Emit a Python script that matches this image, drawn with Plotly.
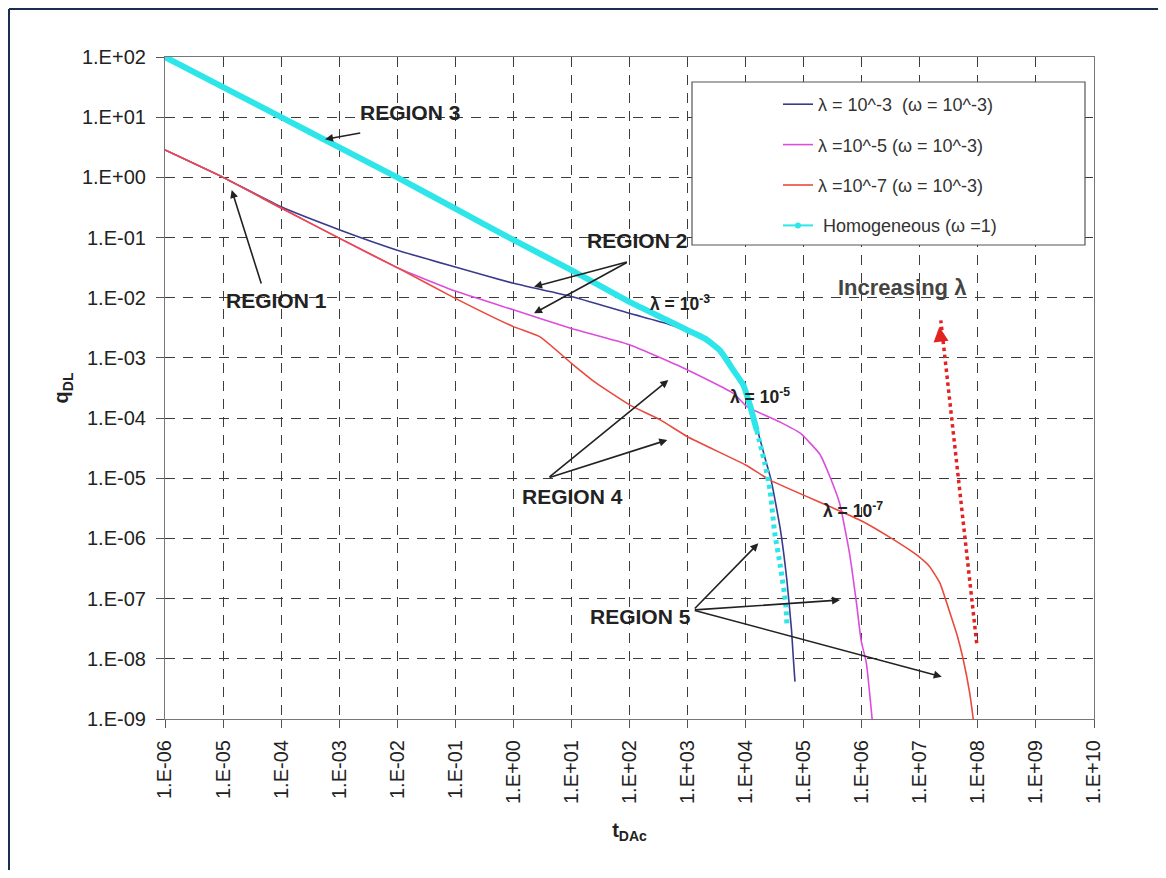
import plotly.graph_objects as go

# ---------------- data ----------------
t_lam3 = [1e-6, 1e-5, 1e-4, 1e-3, 1e-2, 1e-1, 1, 10, 100, 437, 1000, 2000, 3630, 6310, 9120,
          12000, 15500, 21400, 27500, 39800, 51300, 61700, 66100, 70800]
q_lam3 = [2.85, 1.0, 0.324, 0.135, 0.0617, 0.0324, 0.0174, 0.0105, 0.0055, 0.00372, 0.00275,
          0.00209, 1.32e-3, 6.03e-4, 3.55e-4, 1.58e-4, 7.08e-5, 2.24e-5, 9.33e-6, 1.38e-6,
          2.04e-7, 3.02e-8, 1.07e-8, 4.17e-9]

t_lam5 = [1e-6, 1e-5, 1e-4, 1e-3, 1e-2, 1e-1, 1, 10, 100, 1000, 6170, 10500, 40000, 87100,
          190000, 282000, 417000, 617000, 813000, 977000, 1.2e6, 1.51e6]
q_lam5 = [2.85, 1.0, 0.309, 0.0977, 0.0316, 0.0129, 0.00631, 0.00309, 0.00166, 6.31e-4,
          2.57e-4, 1.55e-4, 8.5e-5, 5.62e-5, 2.51e-5, 1.07e-5, 3.8e-6, 5.62e-7, 8.32e-8, 2.0e-8,
          8.51e-9, 1.0e-9]

t_lam7 = [1e-6, 1e-5, 1e-4, 1e-3, 1e-2, 1e-1, 1, 2.88, 10, 26.9, 100, 339, 1000, 10000, 26300,
          282000, 1.0e6, 3.16e6, 8.71e6, 1.48e7, 2.24e7, 3.09e7, 4.37e7, 5.62e7, 7.24e7, 8.32e7]
q_lam7 = [2.85, 1.0, 0.309, 0.0977, 0.0316, 0.00977, 0.00331, 0.00224, 8.13e-4, 3.8e-4,
          1.66e-4, 9.33e-5, 4.9e-5, 1.66e-5, 9.33e-6, 3.39e-6, 1.95e-6, 1.02e-6, 5.37e-7,
          3.39e-7, 1.78e-7, 7.08e-8, 2.51e-8, 9.55e-9, 2.69e-9, 1.0e-9]

# homogeneous: solid part then dotted tail (shares the joint point)
t_hom = [1e-6, 1e-5, 1e-4, 1e-3, 1e-2, 1e-1, 1, 10, 100, 437, 1000, 2000, 3630, 6310, 9120,
         12000, 15500]
q_hom = [100, 31.6, 10, 3.16, 1.0, 0.302, 0.0912, 0.0288, 0.00851, 0.00427, 0.00288, 0.00209,
         1.32e-3, 6.03e-4, 3.55e-4, 1.58e-4, 6.31e-5]
t_hom_tail = [15500, 21400, 26300, 31600, 39800, 49000, 51300]
q_hom_tail = [6.31e-5, 1.78e-5, 6.31e-6, 1.26e-6, 3.39e-7, 8.32e-8, 3.89e-8]

# red dotted "Increasing lambda" arrow (tail -> head)
arrow_t = [9.55e7, 2.3e7]
arrow_q = [1.81e-8, 4.2e-3]

tick_exp = list(range(-6, 11))
x_ticktext = ["1.E-06", "1.E-05", "1.E-04", "1.E-03", "1.E-02", "1.E-01", "1.E+00", "1.E+01",
              "1.E+02", "1.E+03", "1.E+04", "1.E+05", "1.E+06", "1.E+07", "1.E+08", "1.E+09",
              "1.E+10"]
y_exp = list(range(-9, 3))
y_ticktext = ["1.E-09", "1.E-08", "1.E-07", "1.E-06", "1.E-05", "1.E-04", "1.E-03", "1.E-02",
              "1.E-01", "1.E+00", "1.E+01", "1.E+02"]

legend_names = ["λ = 10^-3 \u00a0(ω = 10^-3)", "λ =10^-5 (ω = 10^-3)", "λ =10^-7 (ω = 10^-3)",
                "\u00a0Homogeneous (ω =1)"]

# ---------------- styles ----------------
C_BLUE = "#3a3a8c"
C_MAG = "#dc4ddc"
C_RED = "#ea4a3e"
C_CYAN = "#2ee6ea"
FONT = "Arial, Liberation Sans, sans-serif"
SMOOTH = dict(shape="spline", smoothing=0.45)

fig = go.Figure()
fig.add_trace(go.Scatter(x=t_lam3, y=q_lam3, mode="lines", name=legend_names[0],
                         line=dict(color=C_BLUE, width=1.6, **SMOOTH), legendgroup="a"))
fig.add_trace(go.Scatter(x=t_lam5, y=q_lam5, mode="lines", name=legend_names[1],
                         line=dict(color=C_MAG, width=1.6, **SMOOTH), legendgroup="b"))
fig.add_trace(go.Scatter(x=t_lam7, y=q_lam7, mode="lines", name=legend_names[2],
                         line=dict(color=C_RED, width=1.6, **SMOOTH), legendgroup="c"))
fig.add_trace(go.Scatter(x=t_hom, y=q_hom, mode="lines", showlegend=False,
                         line=dict(color=C_CYAN, width=6, **SMOOTH), legendgroup="d"))
fig.add_trace(go.Scatter(x=t_hom_tail, y=q_hom_tail, mode="lines", showlegend=False,
                         line=dict(color=C_CYAN, width=5, dash="4px,4px", **SMOOTH),
                         legendgroup="d"))
# legend entry for homogeneous (thin line + dot as in the reference legend)
fig.add_trace(go.Scatter(x=[None], y=[None], mode="lines+markers", name=legend_names[3],
                         line=dict(color=C_CYAN, width=2), marker=dict(size=6, color=C_CYAN),
                         legendgroup="d"))
fig.add_trace(go.Scatter(x=arrow_t, y=arrow_q, mode="lines", showlegend=False,
                         line=dict(color="#e32222", width=3.5, dash="dot"), hoverinfo="skip"))

# ---------------- annotations ----------------
ann = []
def text(x, y, s, size=21, bold=True, color="#222"):
    ann.append(dict(x=x, y=y, xref="x", yref="y", text=s, showarrow=False,
                    font=dict(family=FONT, size=size, color=color,
                              weight="bold" if bold else "normal")))

def arrow(x0, y0, x1, y1, color="#222", width=1.6, size=1.0):
    ann.append(dict(x=x1, y=y1, ax=x0, ay=y0, xref="x", yref="y", axref="x", ayref="y",
                    text="", showarrow=True, arrowhead=2, arrowsize=size, arrowwidth=width,
                    arrowcolor=color))

text(-1.78, 1.086, "REGION 3")
arrow(-2.612, 0.742, -3.244, 0.632)
text(-4.088, -2.054, "REGION 1")
arrow(-4.334, -1.789, -4.851, -0.210)
text(2.13, -1.057, "REGION 2")
arrow(1.98, -1.401, 0.356, -1.817)
arrow(1.98, -1.401, 0.356, -2.259)
text(1.01, -5.295, "REGION 4")
arrow(0.597, -4.996, 2.669, -3.367)
arrow(0.597, -4.996, 2.651, -4.364)
text(2.181, -7.289, "REGION 5")
arrow(3.099, -7.189, 4.219, -6.081)
arrow(3.099, -7.189, 5.626, -7.023)
arrow(3.099, -7.189, 7.378, -8.298)
text(2.87, -2.088, "λ = 10<sup>-3</sup>", size=17.5)
text(4.248, -3.633, "λ = 10<sup>-5</sup>", size=17.5)
text(5.85, -5.528, "λ = 10<sup>-7</sup>", size=17.5)
text(6.694, -1.838, "Increasing λ", size=22, color="#444")
# red arrow head of the dotted arrow
ann.append(dict(x=7.336, y=-2.482, ax=1.6, ay=14, xref="x", yref="y", text="",
                showarrow=True, arrowhead=2, arrowsize=1.2, arrowwidth=2.5,
                arrowcolor="#e32222"))

# ---------------- geometry (page has an 8px body margin) ----------------
OFF = 8
W, H = 1166 - 2 * OFF, 878 - 2 * OFF
L, T = 165 - OFF, 57 - OFF
R = W - (1094 - OFF)
B = H - (719 - OFF)
pw, ph = W - L - R, H - T - B
def px(xr):
    return (xr - OFF - L) / pw
def py(yr):
    return (H - B - (yr - OFF)) / ph

shapes = [
    dict(type="rect", xref="paper", yref="paper", x0=px(692), x1=px(1085), y0=py(245), y1=py(82),
         fillcolor="white", line=dict(color="#555", width=1.2), layer="above"),
    dict(type="line", xref="paper", yref="paper", x0=px(9), x1=px(9), y0=py(9), y1=py(900),
         line=dict(color="#1c2d4f", width=2)),
    dict(type="line", xref="paper", yref="paper", x0=px(9), x1=px(1200), y0=py(9), y1=py(9),
         line=dict(color="#1c2d4f", width=2)),
]

axis_common = dict(type="log", showline=True, mirror=True, linecolor="#777", linewidth=1.2,
                   ticks="outside", ticklen=8, tickcolor="#555", tickwidth=1.2,
                   showgrid=True, gridcolor="#3c3c3c", gridwidth=1.3, griddash="10px,8px",
                   zeroline=False, tickfont=dict(family=FONT, size=20, color="#222"))

fig.update_layout(
    width=W, height=H,
    margin=dict(l=L, r=R, t=T, b=B),
    paper_bgcolor="white", plot_bgcolor="white",
    font=dict(family=FONT, color="#222"),
    xaxis=dict(range=[-6, 10], tickvals=[10 ** e for e in tick_exp], ticktext=x_ticktext,
               tickangle=-90, ticklabelstandoff=4,
               title=dict(text="<b>t<sub>DAc</sub></b>", font=dict(size=20), standoff=19),
               **axis_common),
    yaxis=dict(range=[-9, 2], tickvals=[10 ** e for e in y_exp], ticktext=y_ticktext,
               ticklabelstandoff=6,
               title=dict(text="<b>q<sub>DL</sub></b>", font=dict(size=20), standoff=7),
               **axis_common),
    legend=dict(x=px(778), y=py(86), xanchor="left", yanchor="top",
                bgcolor="rgba(0,0,0,0)", borderwidth=0, tracegroupgap=14,
                traceorder="grouped",
                font=dict(family=FONT, size=18, color="#333")),
    annotations=ann,
    shapes=shapes,
)

fig.write_html("out.html")
